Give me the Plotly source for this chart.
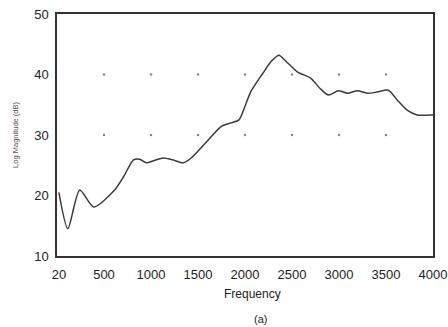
import plotly.graph_objects as go

freq = [20, 115, 242, 390, 613, 708, 814, 878, 951, 1036, 1131, 1230, 1343, 1428, 1534, 1640,
        1745, 1851, 1936, 1989, 2063, 2190, 2275, 2359, 2455, 2560, 2698, 2804, 2889, 2994,
        3090, 3196, 3301, 3407, 3524, 3619, 3725, 3831, 3968, 4000]
mag = [20.5, 14.5, 20.9, 18.1, 20.9, 23.1, 25.9, 26.0, 25.4, 25.8, 26.2, 25.9, 25.4, 26.2, 27.9, 29.7,
       31.4, 32.0, 32.5, 34.3, 37.2, 40.2, 42.1, 43.2, 41.9, 40.4, 39.4, 37.6, 36.6, 37.3,
       36.9, 37.3, 36.9, 37.1, 37.4, 35.8, 34.1, 33.3, 33.3, 33.3]

x_ticks = [20, 500, 1000, 1500, 2000, 2500, 3000, 3500, 4000]
y_ticks = [10, 20, 30, 40, 50]
grid_x = [500, 1000, 1500, 2000, 2500, 3000, 3500]
grid_y = [30, 40]

gx = [x for y in grid_y for x in grid_x]
gy = [y for y in grid_y for x in grid_x]

fig = go.Figure()
fig.add_trace(go.Scatter(x=gx, y=gy, mode="markers",
                         marker=dict(size=2.5, color="#888888"), hoverinfo="skip"))
fig.add_trace(go.Scatter(x=freq, y=mag, mode="lines",
                         line=dict(color="#3a3a3a", width=1.5, shape="spline", smoothing=0.7)))

axis_common = dict(showgrid=False, zeroline=False, showline=True, linecolor="#333333",
                   linewidth=1.5, mirror=True, ticks="", color="#222222", automargin=False,
                   tickfont=dict(family="Liberation Sans", size=13, color="#222222"))
fig.update_xaxes(range=[0, 4000], tickvals=x_ticks, ticktext=[str(v) for v in x_ticks],
                 ticklabelstandoff=6, **axis_common)
fig.update_yaxes(range=[10, 50], tickvals=y_ticks, ticktext=[str(v) for v in y_ticks],
                 ticklabelstandoff=4, **axis_common)

fig.add_annotation(text="Frequency", xref="paper", yref="paper", x=0.52, y=-0.155,
                   showarrow=False, yanchor="middle",
                   font=dict(family="Liberation Sans", size=12, color="#222222"))
fig.add_annotation(text="(a)", xref="paper", yref="paper", x=0.54, y=-0.262,
                   showarrow=False, yanchor="middle",
                   font=dict(family="Liberation Sans", size=11, color="#222222"))
fig.add_annotation(text="Log Magnitude (dB)", xref="paper", yref="paper", x=-0.112, y=0.5,
                   textangle=-90, showarrow=False, xanchor="center", yanchor="middle",
                   font=dict(family="Liberation Sans", size=7.5, color="#555555"))

fig.update_layout(width=448, height=327, margin=dict(l=57, r=15, t=14, b=71),
                  paper_bgcolor="white", plot_bgcolor="white", showlegend=False)
fig.write_html("out.html")
